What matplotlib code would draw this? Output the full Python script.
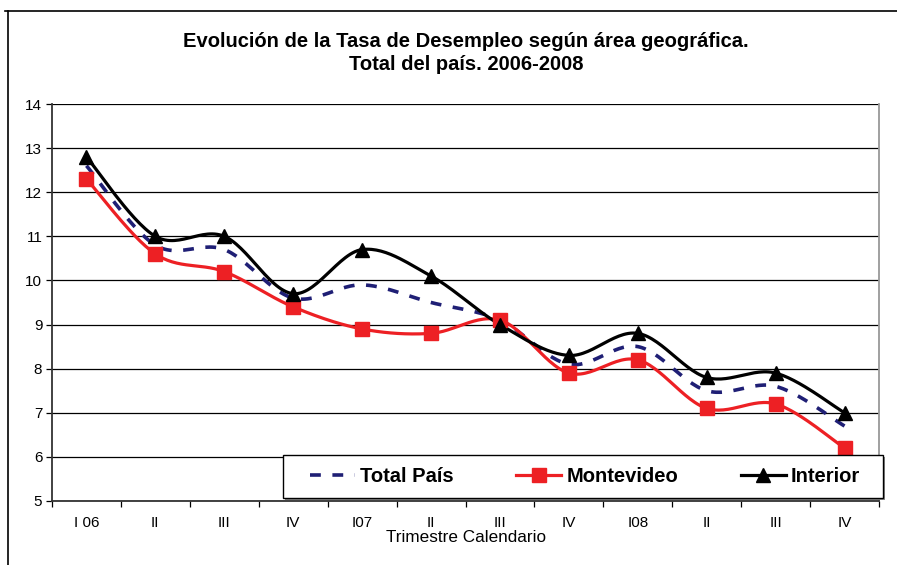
import numpy as np
import matplotlib
matplotlib.use("Agg")
import matplotlib.pyplot as plt
from matplotlib.lines import Line2D
from matplotlib.patches import Rectangle

plt.rcParams['font.family'] = ['Liberation Sans', 'DejaVu Sans']

categories = ["I 06", "II", "III", "IV", "I07", "II", "III", "IV", "I08", "II", "III", "IV"]
total_pais = [12.6, 10.8, 10.7, 9.6, 9.9, 9.5, 9.1, 8.1, 8.5, 7.5, 7.6, 6.7]
montevideo = [12.3, 10.6, 10.2, 9.4, 8.9, 8.8, 9.1, 7.9, 8.2, 7.1, 7.2, 6.2]
interior = [12.8, 11.0, 11.0, 9.7, 10.7, 10.1, 9.0, 8.3, 8.8, 7.8, 7.9, 7.0]

title = "Evolución de la Tasa de Desempleo según área geográfica.\nTotal del país. 2006-2008"
xlabel = "Trimestre Calendario"


def smooth(xs, ys, n=30):
    """Excel-style smoothed line (Catmull-Rom Bezier) through the data points."""
    P = np.column_stack([xs, ys]).astype(float)
    P = np.vstack([P[0], P, P[-1]])
    out = []
    for i in range(1, len(P) - 2):
        p0, p1, p2, p3 = P[i - 1], P[i], P[i + 1], P[i + 2]
        b1 = p1 + (p2 - p0) / 6.0
        b2 = p2 - (p3 - p1) / 6.0
        t = np.linspace(0, 1, n)[:, None]
        seg = ((1 - t) ** 3) * p1 + 3 * ((1 - t) ** 2) * t * b1 + 3 * (1 - t) * t ** 2 * b2 + t ** 3 * p2
        out.append(seg if i == 1 else seg[1:])
    c = np.vstack(out)
    return c[:, 0], c[:, 1]


W, H = 897, 565
fig = plt.figure(figsize=(W / 100, H / 100), dpi=100)
ax = fig.add_axes([52 / W, 1 - 501 / H, (879 - 52) / W, (501 - 104) / H])

x = np.arange(len(categories))

red = "#ED2024"
navy = "#1F1F75"

sx, sy = smooth(x, total_pais)
ax.plot(sx, sy, color=navy, lw=2.6, dashes=(3.0, 3.2), zorder=3, solid_capstyle='butt')
sx, sy = smooth(x, montevideo)
ax.plot(sx, sy, color=red, lw=2.3, zorder=4)
ax.plot(x, montevideo, ls='none', marker='s', ms=9.5, color=red, zorder=5)
sx, sy = smooth(x, interior)
ax.plot(sx, sy, color='black', lw=2.3, zorder=4)
ax.plot(x, interior, ls='none', marker='^', ms=9.5, color='black', zorder=5)

ax.set_xlim(-0.5, len(categories) - 0.5)
ax.set_ylim(5, 14)
ax.set_yticks(np.arange(5, 15, 1))
ax.yaxis.grid(True, color='black', lw=0.9)
ax.set_axisbelow(True)
ax.set_xticks(x)
ax.set_xticklabels(categories, fontsize=11)
ax.set_xticks(np.arange(-0.5, len(categories), 1), minor=True)
ax.tick_params(axis='x', which='major', length=0, pad=11)
ax.tick_params(axis='x', which='minor', length=4, width=0.9)
ax.tick_params(axis='y', length=4, width=0.9, labelsize=11, pad=3)
ax.set_xlabel(xlabel, fontsize=12.3, labelpad=0)

for s in ['left', 'bottom']:
    ax.spines[s].set_color('#333333')
    ax.spines[s].set_linewidth(1.3)
ax.spines['top'].set_visible(False)
ax.spines['right'].set_color('#999999')
ax.spines['right'].set_linewidth(1.3)

fig.text(466 / W, 1 - 53 / H, title, ha='center', va='center', fontsize=14.5,
         fontweight='bold', linespacing=1.3)

# outer chart border (top and left edges visible)
fig.add_artist(Line2D([5 / W, 1.0], [1 - 11 / H, 1 - 11 / H], color='black', lw=1.2))
fig.add_artist(Line2D([8 / W, 8 / W], [0, 1 - 11 / H], color='black', lw=1.2))

# legend box with slight shadow
fig.add_artist(Rectangle((285 / W, 1 - 500 / H), 600 / W, 43 / H, transform=fig.transFigure,
                         facecolor='#888888', edgecolor='none', zorder=4.9))
fig.add_artist(Rectangle((283 / W, 1 - 498 / H), 600 / W, 43 / H, transform=fig.transFigure,
                         facecolor='white', edgecolor='black', lw=1.0, zorder=5))
handles = [
    Line2D([], [], color=navy, lw=2.6, dashes=(3.0, 3.2)),
    Line2D([], [], color=red, lw=2.3, marker='s', ms=9.5),
    Line2D([], [], color='black', lw=2.3, marker='^', ms=9.5),
]
leg = fig.legend(handles, ["Total País", "Montevideo", "Interior"], loc='center',
                 bbox_to_anchor=(585 / W, 1 - 477 / H), ncol=3, frameon=False,
                 prop={'weight': 'bold', 'size': 14.5}, handlelength=2.25,
                 columnspacing=3.1, handletextpad=0.25)
leg.set_zorder(6)

fig.savefig("out.png", dpi=100)
